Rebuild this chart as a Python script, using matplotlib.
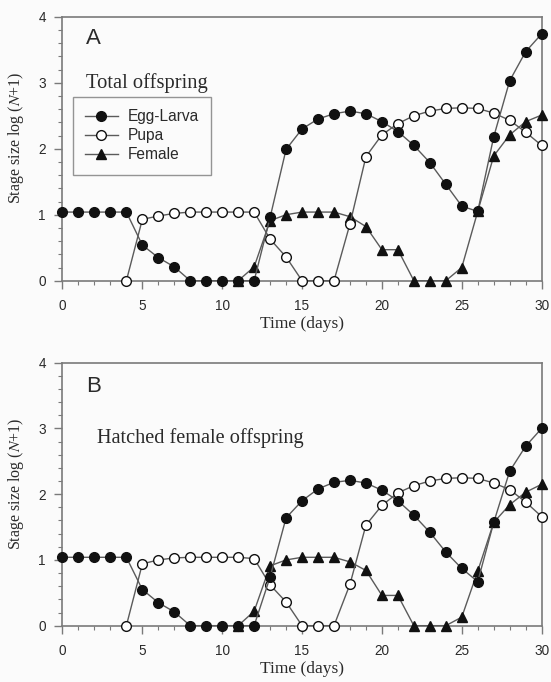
import matplotlib
matplotlib.use('Agg')
import matplotlib.pyplot as plt
from matplotlib.ticker import MultipleLocator

plt.rcParams['font.family'] = ['Liberation Sans', 'DejaVu Sans']
plt.rcParams['mathtext.fontset'] = 'stix'

# days for each series
days = list(range(0, 31))
days_pupa = list(range(4, 31))
days_female = list(range(11, 31))

# panel A: total offspring, log(N+1)
egg_a = [1.04, 1.04, 1.04, 1.04, 1.04, 0.54, 0.35, 0.21, 0, 0, 0, 0, 0,
         0.96, 1.99, 2.30, 2.45, 2.53, 2.57, 2.53, 2.41, 2.26, 2.05, 1.79,
         1.46, 1.13, 1.05, 2.18, 3.03, 3.47, 3.74]
pupa_a = [0, 0.93, 0.98, 1.02, 1.04, 1.04, 1.04, 1.04, 1.04, 0.63, 0.36,
          0, 0, 0, 0.86, 1.88, 2.21, 2.38, 2.50, 2.57, 2.61, 2.62, 2.61,
          2.54, 2.43, 2.25, 2.05]
female_a = [0, 0.21, 0.91, 1.0, 1.04, 1.04, 1.04, 0.97, 0.82, 0.47, 0.47,
            0, 0, 0, 0.20, 1.05, 1.89, 2.21, 2.41, 2.51]

# panel B: hatched female offspring
egg_b = [1.04, 1.04, 1.04, 1.04, 1.04, 0.55, 0.35, 0.21, 0, 0, 0, 0, 0,
         0.74, 1.64, 1.90, 2.08, 2.18, 2.21, 2.17, 2.06, 1.90, 1.68, 1.42,
         1.12, 0.87, 0.67, 1.57, 2.35, 2.73, 3.00]
pupa_b = [0, 0.94, 1.0, 1.03, 1.04, 1.04, 1.04, 1.04, 1.02, 0.62, 0.36,
          0, 0, 0, 0.63, 1.53, 1.83, 2.02, 2.13, 2.20, 2.24, 2.25, 2.24,
          2.17, 2.07, 1.88, 1.66]
female_b = [0, 0.22, 0.91, 1.0, 1.04, 1.04, 1.04, 0.97, 0.84, 0.46, 0.46,
            0, 0, 0, 0.13, 0.83, 1.57, 1.84, 2.03, 2.15]

panels = [
    ('A', 'Total offspring', egg_a, pupa_a, female_a),
    ('B', 'Hatched female offspring', egg_b, pupa_b, female_b),
]

LINE = '#5a5a5a'
MARK = '#111111'
SPINE = '#7a7a7a'
TXT = '#2a2a2a'
BG = '#fbfbfb'

fig = plt.figure(figsize=(5.51, 6.82), dpi=100, facecolor=BG)
axes = [fig.add_axes([0.1134, 0.5884, 0.8696, 0.3871]),
        fig.add_axes([0.1134, 0.0826, 0.8696, 0.3856])]

for ax, (letter, title, egg, pupa, female) in zip(axes, panels):
    ax.set_facecolor(BG)
    kw = dict(color=LINE, lw=1.0, clip_on=False, markeredgecolor=MARK)
    h_f, = ax.plot(days_female, female, marker='^', ms=7, markerfacecolor=MARK,
                   label='Female', zorder=3, **kw)
    h_p, = ax.plot(days_pupa, pupa, marker='o', ms=7, markerfacecolor='white',
                   markeredgewidth=1.0, label='Pupa', zorder=4, **kw)
    h_e, = ax.plot(days, egg, marker='o', ms=7, markerfacecolor=MARK,
                   label='Egg-Larva', zorder=5, **kw)

    ax.set_xlim(0, 30)
    ax.set_ylim(0, 4)
    ax.xaxis.set_major_locator(MultipleLocator(5))
    ax.xaxis.set_minor_locator(MultipleLocator(1))
    ax.yaxis.set_major_locator(MultipleLocator(1))
    ax.yaxis.set_minor_locator(MultipleLocator(0.2))
    ax.tick_params(which='major', length=6, width=1.0, color=SPINE,
                   labelsize=9.8, labelcolor=TXT)
    ax.tick_params(which='minor', length=3, width=0.8, color=SPINE)
    ax.tick_params(axis='x', which='major', pad=7)
    ax.tick_params(axis='y', which='major', pad=6)
    for s in ax.spines.values():
        s.set_color(SPINE)
        s.set_linewidth(1.2)

    ax.set_xlabel('Time (days)', family='Liberation Serif', fontsize=12.5,
                  color=TXT, labelpad=2)
    ax.set_ylabel(r'Stage size log ($\mathit{N}$+1)', family='Liberation Serif',
                  fontsize=11.5, color=TXT)
    ax.yaxis.set_label_coords(-0.076, 0.54)

    ax.text(0.05, 0.895 if letter == 'A' else 0.887, letter,
            transform=ax.transAxes, fontsize=16, color=TXT, va='baseline')

    if letter == 'A':
        ax.text(0.049, 0.729, title, transform=ax.transAxes,
                family='Liberation Serif', fontsize=14.8, color=TXT,
                va='baseline')
        leg = ax.legend(handles=[h_e, h_p, h_f], loc='upper left',
                        bbox_to_anchor=(0.021, 0.696), fontsize=11.2,
                        frameon=True, fancybox=False, handlelength=2.1,
                        handletextpad=0.65, labelspacing=0.25,
                        borderpad=0.8, borderaxespad=0)
        leg.get_frame().set_edgecolor(SPINE)
        leg.get_frame().set_linewidth(1.0)
        leg.get_frame().set_facecolor(BG)
        for t in leg.get_texts():
            t.set_color(TXT)
    else:
        ax.text(0.071, 0.696, title, transform=ax.transAxes,
                family='Liberation Serif', fontsize=14.6, color=TXT,
                va='baseline')

fig.savefig('out.png', dpi=100, facecolor=BG)
